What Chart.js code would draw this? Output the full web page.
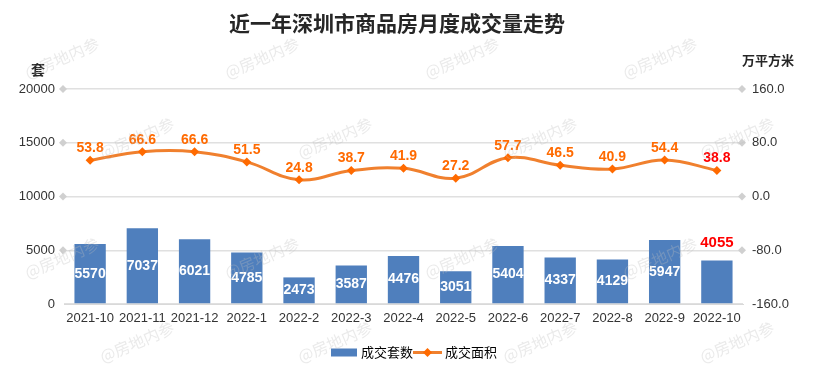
<!DOCTYPE html>
<html>
<head>
<meta charset="utf-8">
<script src="https://cdn.jsdelivr.net/npm/chart.js@4.4.0/dist/chart.umd.min.js"></script>
<style>
  html, body { margin: 0; padding: 0; background: #fff; }
  #box { width: 814px; height: 389px; position: relative; }
</style>
</head>
<body>
<div id="box"><canvas id="myChart"></canvas></div>
<script>
// datos del grafico
const meses = ['2021-10','2021-11','2021-12','2022-1','2022-2','2022-3','2022-4','2022-5','2022-6','2022-7','2022-8','2022-9','2022-10'];
const taoShu = [5570, 7037, 6021, 4785, 2473, 3587, 4476, 3051, 5404, 4337, 4129, 5947, 4055];
const mianJi = [53.8, 66.6, 66.6, 51.5, 24.8, 38.7, 41.9, 27.2, 57.7, 46.5, 40.9, 54.4, 38.8];
const ticksIzq = [0, 5000, 10000, 15000, 20000];
const ticksDer = [-160, -80, 0, 80, 160];

const AZUL = '#4F7FBD';
const NARANJA_LINEA = '#F0802E';
const NARANJA = '#FF6A00';
const ROJO = '#FF0000';
const CJK = '"Noto Sans CJK SC", "Noto Sans", sans-serif';
const NUM = '"Liberation Sans", Arial, sans-serif';

// etiquetas de valores sobre barras y puntos
const etiquetas = {
  id: 'etiquetas',
  afterDatasetsDraw(chart) {
    const ctx = chart.ctx;
    ctx.save();
    ctx.textAlign = 'center';
    ctx.textBaseline = 'middle';
    const barras = chart.getDatasetMeta(0).data;
    barras.forEach((bar, i) => {
      const ultimo = i === barras.length - 1;
      if (ultimo) {
        ctx.font = 'bold 15px ' + NUM;
        ctx.fillStyle = ROJO;
        ctx.fillText(taoShu[i], bar.x, bar.y - 18);
      } else {
        ctx.font = 'bold 14px ' + NUM;
        ctx.fillStyle = '#fff';
        ctx.fillText(taoShu[i], bar.x, (bar.y + bar.base) / 2);
      }
    });
    const puntos = chart.getDatasetMeta(1).data;
    puntos.forEach((p, i) => {
      ctx.font = 'bold 14px ' + NUM;
      ctx.fillStyle = i === puntos.length - 1 ? ROJO : NARANJA;
      ctx.fillText(mianJi[i].toFixed(1), p.x, p.y - 12);
    });
    ctx.restore();
  }
};

// titulo, rombos de la grilla, leyenda y marcas de agua
const adornos = {
  id: 'adornos',
  beforeDatasetsDraw(chart) {
    const ctx = chart.ctx;
    const area = chart.chartArea;
    const y = chart.scales.y;
    ctx.save();
    ctx.fillStyle = '#d0d0d0';
    y.ticks.forEach((t) => {
      if (t.value === 0) return;
      const py = y.getPixelForValue(t.value);
      [area.left - 1, area.right - 1].forEach((px) => {
        ctx.beginPath();
        ctx.moveTo(px, py - 4);
        ctx.lineTo(px + 4, py);
        ctx.lineTo(px, py + 4);
        ctx.lineTo(px - 4, py);
        ctx.closePath();
        ctx.fill();
      });
    });
    ctx.restore();
  },
  afterDraw(chart) {
    const ctx = chart.ctx;
    const w = chart.width;
    ctx.save();
    // titulo
    ctx.textAlign = 'center';
    ctx.textBaseline = 'middle';
    ctx.fillStyle = '#262626';
    ctx.font = 'bold 21px ' + CJK;
    ctx.fillText('近一年深圳市商品房月度成交量走势', w / 2 - 10, 23);
    // titulos de ejes
    ctx.font = 'bold 14px ' + CJK;
    ctx.fillText('套', 38, 70);
    ctx.font = 'bold 13px ' + CJK;
    ctx.fillText('万平方米', 768, 60);

    // leyenda
    const cx = w / 2 + 4;
    const ly = 352.5;
    ctx.font = '13px ' + CJK;
    ctx.textAlign = 'left';
    ctx.fillStyle = AZUL;
    ctx.fillRect(cx - 80, ly - 4, 26, 8);
    ctx.fillStyle = '#000';
    ctx.fillText('成交套数', cx - 50, ly);
    ctx.strokeStyle = NARANJA_LINEA;
    ctx.lineWidth = 3;
    ctx.beginPath();
    ctx.moveTo(cx + 2, ly);
    ctx.lineTo(cx + 31, ly);
    ctx.stroke();
    ctx.fillStyle = NARANJA;
    ctx.beginPath();
    ctx.moveTo(cx + 16.5, ly - 4.5);
    ctx.lineTo(cx + 21, ly);
    ctx.lineTo(cx + 16.5, ly + 4.5);
    ctx.lineTo(cx + 12, ly);
    ctx.closePath();
    ctx.fill();
    ctx.fillStyle = '#000';
    ctx.fillText('成交面积', cx + 34, ly);

    // marcas de agua
    const marcas = [
      [62, 58], [262, 58], [462, 58], [660, 58],
      [137, 138], [335, 138], [540, 138], [737, 138],
      [62, 258], [262, 258], [462, 258], [660, 258],
      [137, 342], [335, 342], [540, 342], [737, 342]
    ];
    ctx.font = '16px ' + CJK;
    ctx.textAlign = 'center';
    ctx.fillStyle = 'rgba(190,190,190,0.32)';
    marcas.forEach(([mx, my]) => {
      ctx.save();
      ctx.translate(mx, my);
      ctx.rotate(-23 * Math.PI / 180);
      ctx.fillText('@房地内参', 0, 0);
      ctx.restore();
    });
    ctx.restore();
  }
};

const ctx = document.getElementById('myChart').getContext('2d');
const myChart = new Chart(ctx, {
  data: {
    labels: meses,
    datasets: [
      {
        type: 'bar',
        label: '成交套数',
        data: taoShu,
        backgroundColor: AZUL,
        yAxisID: 'y',
        categoryPercentage: 1,
        barPercentage: 0.6,
        order: 2
      },
      {
        type: 'line',
        label: '成交面积',
        data: mianJi,
        yAxisID: 'y1',
        borderColor: NARANJA_LINEA,
        borderWidth: 3,
        tension: 0.4,
        pointStyle: 'rectRot',
        pointRadius: 4.5,
        pointBackgroundColor: NARANJA,
        pointBorderColor: NARANJA,
        pointBorderWidth: 0,
        order: 1
      }
    ]
  },
  options: {
    responsive: true,
    maintainAspectRatio: false,
    animation: false,
    layout: { padding: { top: 89, bottom: 55, left: 0, right: 0 } },
    plugins: {
      legend: { display: false },
      title: { display: false },
      tooltip: { enabled: false }
    },
    scales: {
      x: {
        grid: { display: false, drawTicks: false },
        border: { color: '#d9d9d9', width: 1 },
        ticks: { color: '#333', font: { size: 13, family: NUM }, padding: 7, maxRotation: 0, autoSkip: false },
        afterFit(scale) { scale.height = 30; }
      },
      y: {
        position: 'left',
        min: ticksIzq[0],
        max: ticksIzq[ticksIzq.length - 1],
        ticks: {
          stepSize: ticksIzq[1] - ticksIzq[0],
          color: '#333',
          font: { size: 13, family: NUM },
          padding: 9,
          callback: (v) => String(v)
        },
        grid: { color: '#e0e0e0', lineWidth: 1.5, drawTicks: false },
        border: { display: false },
        afterFit(scale) { scale.width = 64; }
      },
      y1: {
        position: 'right',
        min: ticksDer[0],
        max: ticksDer[ticksDer.length - 1],
        ticks: {
          stepSize: ticksDer[1] - ticksDer[0],
          color: '#333',
          font: { size: 13, family: NUM },
          padding: 9,
          callback: (v) => Number(v).toFixed(1)
        },
        grid: { display: false, drawTicks: false },
        border: { display: false },
        afterFit(scale) { scale.width = 71; }
      }
    }
  },
  plugins: [adornos, etiquetas]
});
</script>
</body>
</html>
